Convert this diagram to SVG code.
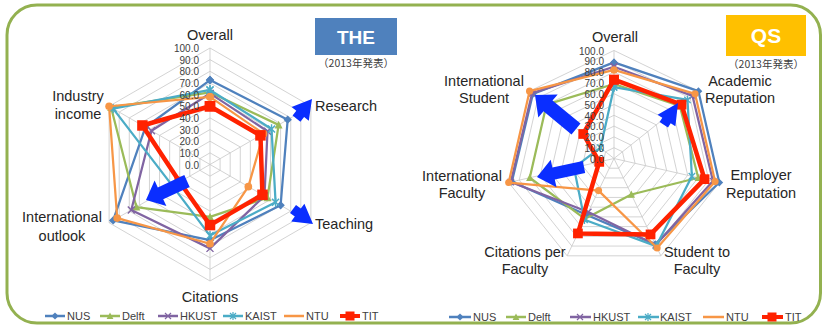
<svg xmlns="http://www.w3.org/2000/svg" width="822" height="328" viewBox="0 0 822 328">
<style>
text{font-family:"Liberation Sans",Arial,sans-serif;fill:#262626}
.ax{font-size:14.5px;text-anchor:middle}
.axs{font-size:14.5px}
.val{font-size:10px;text-anchor:end;fill:#404040}
.leg{font-family:"Liberation Sans Narrow","Liberation Sans",sans-serif;font-size:11px;fill:#404040}
.cjk{font-family:"Noto Sans CJK JP",sans-serif;font-size:10.5px;text-anchor:middle;fill:#404040}
.ttl{font-weight:bold;fill:#FFFFFF;text-anchor:middle}
.grid{fill:none;stroke:#C8C8C8;stroke-width:0.8;vector-effect:non-scaling-stroke}
.ser{fill:none;stroke-width:2.25;stroke-linejoin:round;vector-effect:non-scaling-stroke}
.nus{stroke:#4F81BD}.delft{stroke:#9BBB59}.hkust{stroke:#8064A2}.kaist{stroke:#4BACC6}.ntu{stroke:#F79646}.tit{stroke:#FF2200;stroke-width:4.5}
.chart .nus{marker:url(#mNUS)}.chart .delft{marker:url(#mDelft)}.chart .hkust{marker:url(#mHK)}.chart .kaist{marker:url(#mKA)}.chart .ntu{marker:url(#mNTU)}.chart .tit{marker:url(#mTIT)}
.legend path{fill:none;stroke-width:2.5}
.legend .nus{marker-mid:url(#mNUS)}.legend .delft{marker-mid:url(#mDelft)}.legend .hkust{marker-mid:url(#mHK)}.legend .kaist{marker-mid:url(#mKA)}.legend .tit{stroke-width:4;marker-mid:url(#mTIT)}
.arrow{fill:#0A2EFF}
</style>
<defs>
<marker id="mNUS" viewBox="-6 -6 12 12" markerWidth="12" markerHeight="12" refX="0" refY="0" markerUnits="userSpaceOnUse"><path d="M0-3.6L3.6 0L0 3.6L-3.6 0Z" fill="#4F81BD"/></marker>
<marker id="mDelft" viewBox="-6 -6 12 12" markerWidth="12" markerHeight="12" refX="0" refY="0" markerUnits="userSpaceOnUse"><path d="M0-3.6L3.4 3L-3.4 3Z" fill="#9BBB59"/></marker>
<marker id="mHK" viewBox="-6 -6 12 12" markerWidth="12" markerHeight="12" refX="0" refY="0" markerUnits="userSpaceOnUse"><path d="M-3-3L3 3M-3 3L3-3" stroke="#8064A2" stroke-width="1.2" fill="none"/></marker>
<marker id="mKA" viewBox="-6 -6 12 12" markerWidth="12" markerHeight="12" refX="0" refY="0" markerUnits="userSpaceOnUse"><path d="M-3-3L3 3M-3 3L3-3M0-4V4" stroke="#4BACC6" stroke-width="1.2" fill="none"/></marker>
<marker id="mNTU" viewBox="-6 -6 12 12" markerWidth="12" markerHeight="12" refX="0" refY="0" markerUnits="userSpaceOnUse"><circle r="3.3" fill="#F79646"/></marker>
<marker id="mTIT" viewBox="-6 -6 12 12" markerWidth="12" markerHeight="12" refX="0" refY="0" markerUnits="userSpaceOnUse"><rect x="-4.5" y="-4.5" width="9" height="9" fill="#FF2200"/></marker>
</defs>

<rect id="frame" x="7" y="5" width="813.5" height="318" rx="30" fill="#FFFFFF" stroke="#93B150" stroke-width="3"/>

<!-- THE chart -->
<g id="the-chart" class="chart" transform="translate(210 164.5) scale(1.165)">
<g id="the-grid">
<polygon class="grid" points="0,-10 8.66,-5 8.66,5 0,10 -8.66,5 -8.66,-5"/>
<polygon class="grid" points="0,-20 17.32,-10 17.32,10 0,20 -17.32,10 -17.32,-10"/>
<polygon class="grid" points="0,-30 25.98,-15 25.98,15 0,30 -25.98,15 -25.98,-15"/>
<polygon class="grid" points="0,-40 34.64,-20 34.64,20 0,40 -34.64,20 -34.64,-20"/>
<polygon class="grid" points="0,-50 43.3,-25 43.3,25 0,50 -43.3,25 -43.3,-25"/>
<polygon class="grid" points="0,-60 51.96,-30 51.96,30 0,60 -51.96,30 -51.96,-30"/>
<polygon class="grid" points="0,-70 60.62,-35 60.62,35 0,70 -60.62,35 -60.62,-35"/>
<polygon class="grid" points="0,-80 69.28,-40 69.28,40 0,80 -69.28,40 -69.28,-40"/>
<polygon class="grid" points="0,-90 77.94,-45 77.94,45 0,90 -77.94,45 -77.94,-45"/>
<polygon class="grid" points="0,-100 86.6,-50 86.6,50 0,100 -86.6,50 -86.6,-50"/>
<path class="grid" d="M0-100V100M-86.6-50L86.6 50M-86.6 50L86.6-50"/>
</g>
<g id="the-series">
<polygon class="ser nus" points="0,-72.5 66.68,-38.5 60.62,35 0,65 -83.14,48 -55.42,-32"/>
<polygon class="ser delft" points="0,-62 58.89,-34 49.36,28.5 0,45 -63.22,36.5 -84.87,-49"/>
<polygon class="ser hkust" points="0,-61 49.36,-28.5 46.76,27 0,72 -67.55,39 -50.23,-29"/>
<polygon class="ser kaist" points="0,-64 52.83,-30.5 56.29,32.5 0,61 -32.04,18.5 -83.14,-48"/>
<polygon class="ser ntu" points="0,-58 45.9,-26.5 32.91,19 0,68 -79.67,46 -86.6,-50"/>
<polygon class="ser tit" points="0,-50 43.3,-25 45.03,26 0,52 -25.98,15 -58.02,-33.5"/>
</g>
</g>
<g id="the-values" class="val">
<text x="199" y="168.5" class="val">0.0</text>
<text x="199" y="156.85" class="val">10.0</text>
<text x="199" y="145.2" class="val">20.0</text>
<text x="199" y="133.55" class="val">30.0</text>
<text x="199" y="121.9" class="val">40.0</text>
<text x="199" y="110.25" class="val">50.0</text>
<text x="199" y="98.6" class="val">60.0</text>
<text x="199" y="86.95" class="val">70.0</text>
<text x="199" y="75.3" class="val">80.0</text>
<text x="199" y="63.65" class="val">90.0</text>
<text x="199" y="52" class="val">100.0</text>
</g>
<g id="the-labels">
<text x="210" y="40" class="ax">Overall</text>
<text x="315" y="111" class="axs">Research</text>
<text x="315" y="229" class="axs">Teaching</text>
<text x="210" y="302" class="ax">Citations</text>
<text x="62" y="222" class="ax">International</text>
<text x="62" y="241" class="ax">outlook</text>
<text x="78" y="101" class="ax">Industry</text>
<text x="78" y="119" class="ax">income</text>
</g>
<g id="the-title">
<rect x="315" y="18" width="82" height="37" fill="#4F81BD"/>
<text x="356" y="44" class="ttl" font-size="19">THE</text>
<text x="356" y="67" class="cjk">（2013年発表）</text>
</g>

<!-- QS chart -->
<g id="qs-chart" class="chart" transform="translate(614 158.5) scale(1.08)">
<g id="qs-grid">
<polygon class="grid" points="0,-10 7.82,-6.24 9.75,2.23 4.34,9.01 -4.34,9.01 -9.75,2.23 -7.82,-6.24"/>
<polygon class="grid" points="0,-20 15.64,-12.47 19.5,4.45 8.68,18.02 -8.68,18.02 -19.5,4.45 -15.64,-12.47"/>
<polygon class="grid" points="0,-30 23.45,-18.71 29.25,6.68 13.02,27.03 -13.02,27.03 -29.25,6.68 -23.45,-18.71"/>
<polygon class="grid" points="0,-40 31.27,-24.94 39,8.9 17.36,36.04 -17.36,36.04 -39,8.9 -31.27,-24.94"/>
<polygon class="grid" points="0,-50 39.09,-31.18 48.75,11.13 21.7,45.05 -21.7,45.05 -48.75,11.13 -39.09,-31.18"/>
<polygon class="grid" points="0,-60 46.91,-37.41 58.49,13.35 26.03,54.06 -26.03,54.06 -58.49,13.35 -46.91,-37.41"/>
<polygon class="grid" points="0,-70 54.73,-43.65 68.24,15.58 30.37,63.07 -30.37,63.07 -68.24,15.58 -54.73,-43.65"/>
<polygon class="grid" points="0,-80 62.54,-49.88 77.99,17.8 34.71,72.08 -34.71,72.08 -77.99,17.8 -62.54,-49.88"/>
<polygon class="grid" points="0,-90 70.36,-56.12 87.74,20.03 39.05,81.09 -39.05,81.09 -87.74,20.03 -70.36,-56.12"/>
<polygon class="grid" points="0,-100 78.18,-62.35 97.49,22.25 43.39,90.1 -43.39,90.1 -97.49,22.25 -78.18,-62.35"/>
<path class="grid" d="M0 0V-100M0 0L78.18-62.35M0 0L97.49 22.25M0 0L43.39 90.1M0 0L-43.39 90.1M0 0L-97.49 22.25M0 0L-78.18-62.35"/>
</g>
<g id="qs-series">
<polygon class="ser nus" points="0,-89 78.18,-62.35 97.49,22.25 38.18,79.29 -25.17,52.26 -94.57,21.58 -75.05,-59.86"/>
<polygon class="ser delft" points="0,-69 60.98,-48.63 77.99,17.8 16.05,33.34 -26.9,55.86 -77.99,17.8 -62.54,-49.88"/>
<polygon class="ser hkust" points="0,-85 72.71,-57.99 91.64,20.92 38.62,80.19 -23.86,49.56 -95.54,21.81 -75.83,-60.48"/>
<polygon class="ser kaist" points="0,-66 68.02,-54.24 72.14,16.47 39.05,81.09 -27.34,56.76 -37.05,8.46 -12.51,-9.98"/>
<polygon class="ser ntu" points="0,-82 75.05,-59.86 93.59,21.36 39.92,82.89 -14.32,29.73 -97.49,22.25 -78.18,-62.35"/>
<polygon class="ser tit" points="0,-73 62.54,-49.88 83.84,19.14 33.84,70.28 -33.41,69.38 -13.65,3.12 -28.5,-22.7"/>
</g>
</g>
<g id="qs-values">
<text x="604" y="163" class="val">0.0</text>
<text x="604" y="152.15" class="val">10.0</text>
<text x="604" y="141.3" class="val">20.0</text>
<text x="604" y="130.45" class="val">30.0</text>
<text x="604" y="119.6" class="val">40.0</text>
<text x="604" y="108.75" class="val">50.0</text>
<text x="604" y="97.9" class="val">60.0</text>
<text x="604" y="87.05" class="val">70.0</text>
<text x="604" y="76.2" class="val">80.0</text>
<text x="604" y="65.35" class="val">90.0</text>
<text x="604" y="54.5" class="val">100.0</text>
</g>
<g id="qs-labels">
<text x="615" y="42" class="ax">Overall</text>
<text x="740" y="86" class="ax">Academic</text>
<text x="740" y="103" class="ax">Reputation</text>
<text x="761" y="180" class="ax">Employer</text>
<text x="761" y="198" class="ax">Reputation</text>
<text x="697" y="257" class="ax">Student to</text>
<text x="697" y="274" class="ax">Faculty</text>
<text x="525" y="257" class="ax">Citations per</text>
<text x="525" y="274" class="ax">Faculty</text>
<text x="462" y="181" class="ax">International</text>
<text x="462" y="198" class="ax">Faculty</text>
<text x="484" y="86" class="ax">International</text>
<text x="484" y="103" class="ax">Student</text>
</g>
<g id="qs-title">
<rect x="726" y="15" width="80" height="41" fill="#FFC000"/>
<text x="766" y="43" class="ttl" font-size="21">QS</text>
<text x="766" y="68" class="cjk">（2013年発表）</text>
</g>

<!-- blue arrows -->
<g id="arrows">
<polygon class="arrow" points="312,99 308.8,120.7 304.1,117 300.4,121.7 292.6,115.5 296.3,110.8 291.6,107.1"/>
<polygon class="arrow" points="313,224 291.2,221.4 294.8,216.6 290,213 296,205 300.8,208.6 304.4,203.8"/>
<polygon class="arrow" points="184.3,175.1 189.7,186.9 163.2,199.2 166.4,206 146,200 154.6,180.6 157.8,187.4"/>
<polygon class="arrow" points="535,95 557.7,94.4 552.5,100.5 580.5,123.6 571.5,134.4 543.5,111.3 538.3,117.4"/>
<polygon class="arrow" points="537,177 550.7,159.8 552.4,167.6 582.8,161.1 585.2,172.9 554.8,179.4 556.5,187.2"/>
<polygon class="arrow" points="678,103 675.4,126.3 670.7,123.2 668,127.4 659.6,122 662.3,117.8 657.6,114.7"/>
</g>

<!-- legends -->
<g id="the-legend" class="legend">
<path class="nus" d="M45 316H55H65"/><text x="67" y="320" class="leg">NUS</text>
<path class="delft" d="M100 316H110H120"/><text x="122" y="320" class="leg">Delft</text>
<path class="hkust" d="M158 316H168H178"/><text x="180" y="320" class="leg">HKUST</text>
<path class="kaist" d="M223 316H233H243"/><text x="245" y="320" class="leg">KAIST</text>
<path class="ntu" d="M284 316H294H304"/><text x="306" y="320" class="leg">NTU</text>
<path class="tit" d="M340 316H350H360"/><text x="362" y="320" class="leg">TIT</text>
</g>
<g id="qs-legend" class="legend">
<path class="nus" d="M449 317H460H471"/><text x="473" y="321" class="leg">NUS</text>
<path class="delft" d="M506 317H516H526"/><text x="528" y="321" class="leg">Delft</text>
<path class="hkust" d="M570 317H580H591"/><text x="593" y="321" class="leg">HKUST</text>
<path class="kaist" d="M638 317H648H659"/><text x="660" y="321" class="leg">KAIST</text>
<path class="ntu" d="M703 317H713H724"/><text x="726" y="321" class="leg">NTU</text>
<path class="tit" d="M762 317H772H783"/><text x="785" y="321" class="leg">TIT</text>
</g>
</svg>
